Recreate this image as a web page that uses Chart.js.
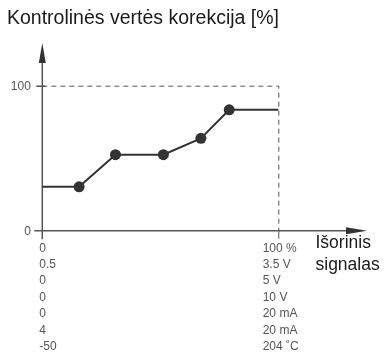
<!DOCTYPE html>
<html>
<head>
<meta charset="utf-8">
<script src="https://cdn.jsdelivr.net/npm/chart.js@4"></script>
<style>
  html, body { margin: 0; padding: 0; background: #fff; }
  #wrap { width: 388px; height: 353px; }
</style>
</head>
<body>
<div id="wrap"><canvas id="myChart" width="388" height="353"></canvas></div>
<script>
// signal (% of range) vs setpoint correction (%)
const signalPct = [0, 15.6, 31, 51.3, 67.2, 79.2, 100];
const correction = [30.3, 30.3, 52.4, 52.4, 63.7, 83.4, 83.4];
const yTicks = [0, 100];
const lowLabels = ['0', '0.5', '0', '0', '0', '4', '-50'];
const highLabels = ['100 %', '3.5 V', '5 V', '10 V', '20 mA', '20 mA', '204 \u02DAC'];
const titleText = 'Kontrolinės vertės korekcija [%]';
const xAxisTitle = ['Išorinis', 'signalas'];

const FONT = '"Liberation Sans", Arial, sans-serif';
const AXIS = '#555';

const axesPlugin = {
    id: 'arrowAxes',
    beforeDatasetsDraw(chart) {
        const ctx = chart.ctx;
        const xs = chart.scales.x, ys = chart.scales.y;
        const x0 = xs.getPixelForValue(0), x100 = xs.getPixelForValue(100);
        const y0 = ys.getPixelForValue(0), y100 = ys.getPixelForValue(100);
        ctx.save();

        // dashed 100% frame
        ctx.strokeStyle = AXIS;
        ctx.lineWidth = 1;
        ctx.setLineDash([5, 4]);
        ctx.beginPath();
        ctx.moveTo(x0, y100 + 0.5);
        ctx.lineTo(x100 + 0.5, y100 + 0.5);
        ctx.lineTo(x100 + 0.5, y0);
        ctx.stroke();
        ctx.setLineDash([]);

        // axes
        ctx.lineWidth = 1.5;
        ctx.beginPath();
        ctx.moveTo(x0, y0 + 8.5);
        ctx.lineTo(x0, 62);
        ctx.moveTo(x0 - 8, y0);
        ctx.lineTo(347, y0);
        // ticks
        ctx.moveTo(x0 - 6, y100 + 0.5);
        ctx.lineTo(x0 + 3, y100 + 0.5);
        ctx.stroke();
        ctx.lineWidth = 1;
        ctx.beginPath();
        ctx.moveTo(x100 + 0.5, y0);
        ctx.lineTo(x100 + 0.5, y0 + 8);
        ctx.stroke();

        // arrow heads
        ctx.fillStyle = '#333';
        ctx.beginPath();
        ctx.moveTo(x0, 43);
        ctx.lineTo(x0 + 3.5, 63);
        ctx.lineTo(x0 - 3.5, 63);
        ctx.closePath();
        ctx.fill();
        ctx.beginPath();
        ctx.moveTo(367, y0);
        ctx.lineTo(346, y0 - 3.5);
        ctx.lineTo(346, y0 + 3.5);
        ctx.closePath();
        ctx.fill();

        // y tick labels
        ctx.font = '12px ' + FONT;
        ctx.fillStyle = '#555';
        ctx.textAlign = 'right';
        ctx.textBaseline = 'middle';
        yTicks.forEach(v => ctx.fillText(String(v), x0 - 11.5, ys.getPixelForValue(v) + 0.5));

        // x tick label columns
        ctx.textAlign = 'left';
        lowLabels.forEach((t, i) => ctx.fillText(t, x0 - 3, y0 + 17.5 + i * 16.4));
        highLabels.forEach((t, i) => ctx.fillText(t, x100 - 15.6, y0 + 17.5 + i * 16.4));

        // axis titles
        ctx.fillStyle = '#1a1a1a';
        ctx.font = '17.5px ' + FONT;
        xAxisTitle.forEach((t, i) => ctx.fillText(t, 315.5, y0 + 12.5 + i * 22));
        ctx.font = '19.5px ' + FONT;
        ctx.fillText(titleText, 7, 18.5);
        ctx.restore();
    }
};

const renderChart = () => {
    var ctx = document.getElementById('myChart').getContext('2d');
    new Chart(ctx, {
        type: 'line',
        data: {
            datasets: [{
                data: signalPct.map((x, i) => ({ x: x, y: correction[i] })),
                borderColor: '#333',
                backgroundColor: '#333',
                borderWidth: 2,
                pointRadius: signalPct.map((x, i) => (i === 0 || i === signalPct.length - 1) ? 0 : 5.5),
                pointBorderWidth: 0,
                tension: 0,
                clip: false
            }]
        },
        options: {
            responsive: false,
            animation: false,
            layout: { padding: { left: 42.3, right: 109.7, top: 85.7, bottom: 122.3 } },
            plugins: { legend: { display: false }, tooltip: { enabled: false } },
            scales: {
                x: { type: 'linear', min: 0, max: 100, display: false },
                y: { min: 0, max: 100, display: false }
            }
        },
        plugins: [axesPlugin]
    });
};

renderChart();
</script>
</body>
</html>
